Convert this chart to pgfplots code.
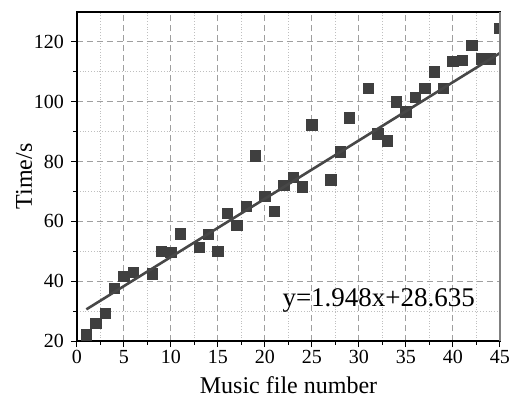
\documentclass[border=0pt]{standalone}
\usepackage{pgfplots}
\pgfplotsset{compat=1.18}
\usepackage{fontspec}
\setmainfont{Liberation Serif}
\definecolor{markc}{HTML}{3F3F3F}
\definecolor{linec}{HTML}{474747}
\begin{document}
\begin{tikzpicture}
\path[use as bounding box] (-38.5pt,-34pt) rectangle (216.5pt,170.5pt);
\begin{axis}[
  scale only axis,
  width=211.5pt, height=164.5pt,
  xmin=0, xmax=45, ymin=20, ymax=130,
  xtick={0,5,...,45}, ytick={20,40,...,120},
  minor x tick num=1, minor y tick num=1,
  grid=both,
  major grid style={densely dashed, gray!75, line width=0.5pt},
  minor grid style={densely dotted, gray!50, line width=0.5pt},
  tick align=outside, tick pos=left,
  major tick length=3pt, minor tick length=1.8pt,
  every tick/.style={black, line width=0.5pt},
  axis line style={line width=0.7pt},
  /pgf/number format/assume math mode=true,
  ticklabel style={font=\fontsize{10}{12}\selectfont},
  xticklabel style={yshift=2pt},
  label style={font=\fontsize{12}{14}\selectfont},
  xlabel={Music file number}, ylabel={Time/s},
  xlabel style={yshift=0.5pt},
  ylabel style={yshift=-6pt},
  clip marker paths=true,
  after end axis/.code={\draw[gray, line width=1pt] (rel axis cs:1,0)--(rel axis cs:1,1);},
]
\addplot[only marks, mark=square*, mark size=2.6pt, markc, mark options={draw=markc, fill=markc}] coordinates {
(1,22.0) (2,25.9) (3,29.3) (4,37.6) (5,41.5) (6,43.0) (8,42.4) (9,50.0) (10,49.7)
(11,55.8) (13,51.3) (14,55.7) (15,49.9) (16,62.7) (17,58.7) (18,65.0) (19,81.9)
(20,68.3) (21,63.4) (22,72.0) (23,74.8) (24,71.5) (25,92.3) (27,73.8) (28,83.2)
(29,94.6) (31,104.5) (32,89.3) (33,86.9) (34,99.9) (35,96.6) (36,101.5) (37,104.5)
(38,110.0) (39,104.5) (40,113.5) (41,113.9) (42,118.8) (43,114.3) (44,114.3) (45,124.6)
};
\addplot[linec, line width=1.3pt] coordinates {(1,30.583) (45,116.295)};
\node[font=\fontsize{13.5}{16}\selectfont] at (axis cs:32.1,33.6) {y=1.948x+28.635};
\end{axis}
\end{tikzpicture}
\end{document}
